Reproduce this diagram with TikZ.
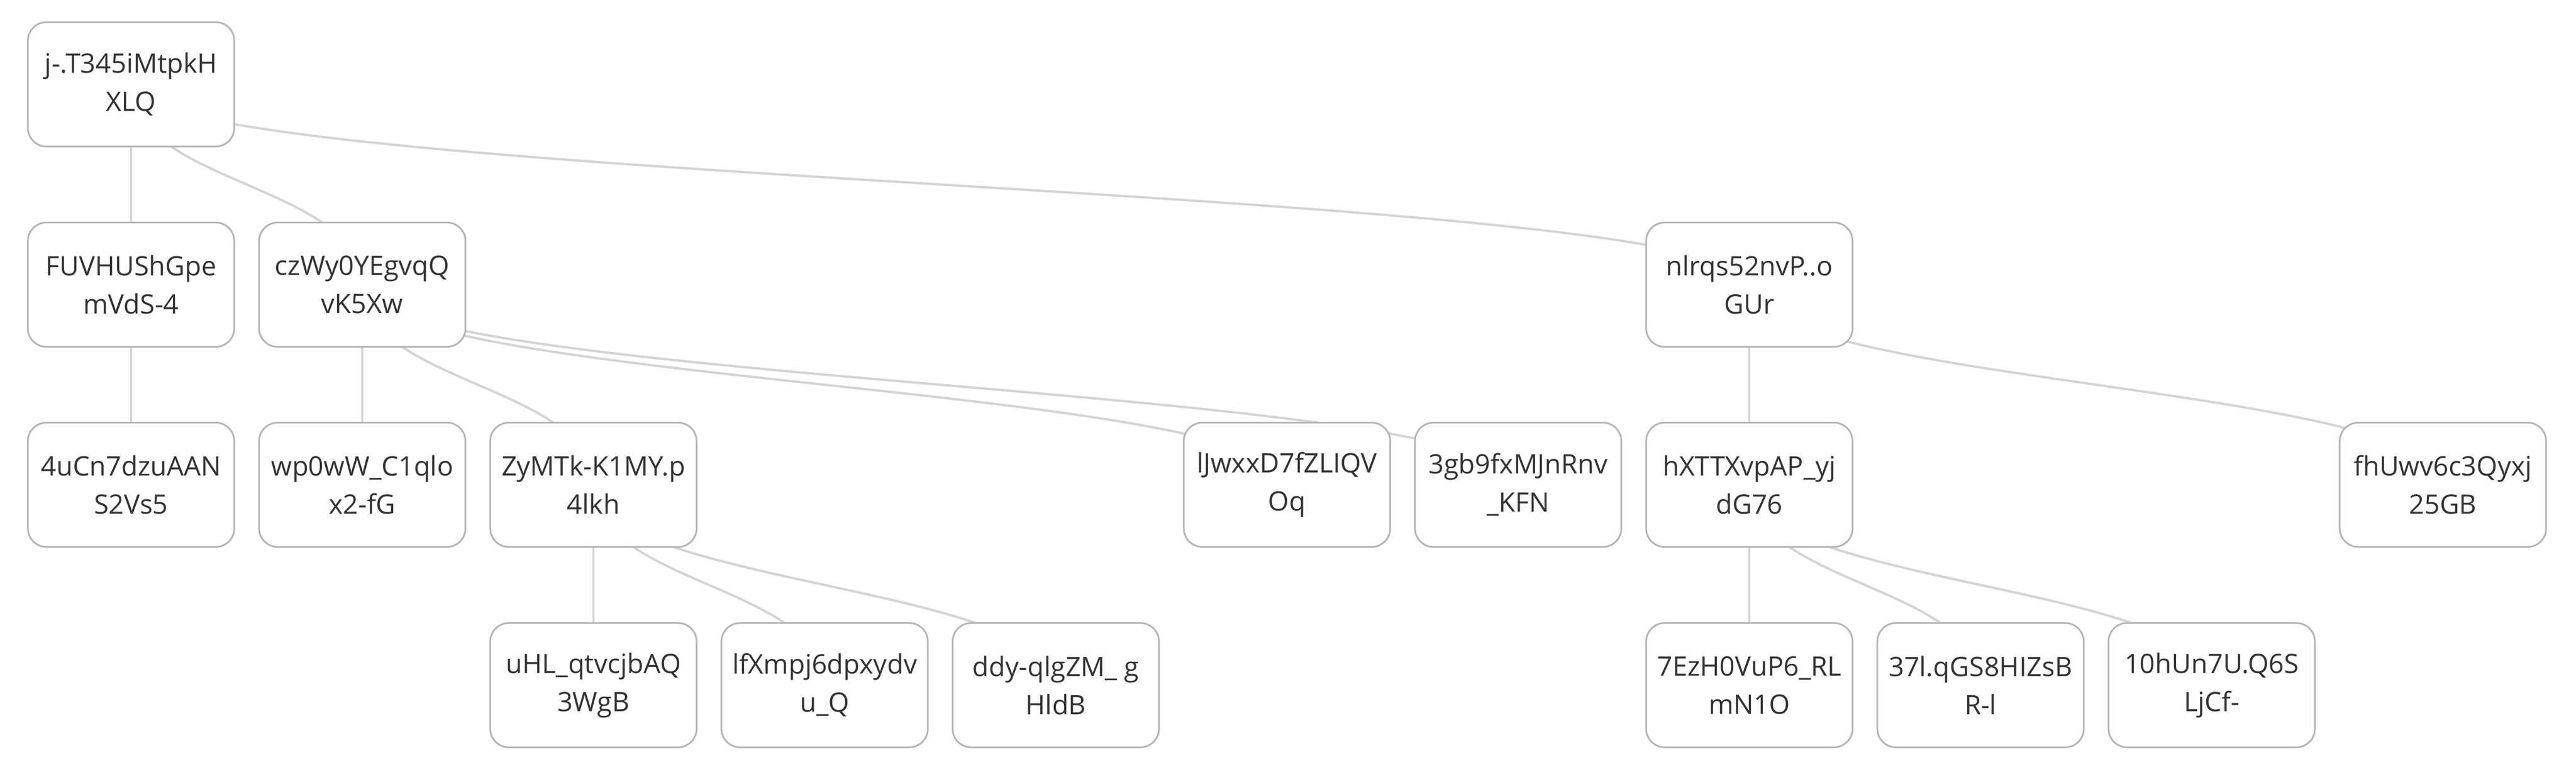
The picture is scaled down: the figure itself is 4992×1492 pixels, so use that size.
\documentclass[tikz,border=0pt]{standalone}
\usepackage{fontspec}
\setmainfont{Open Sans}
\usetikzlibrary{backgrounds}
\definecolor{boxline}{HTML}{B4B4B4}
\definecolor{edgeline}{HTML}{D4D4D4}
\definecolor{txt}{HTML}{333333}
\tikzset{
  box/.style={draw=boxline, line width=0.65pt, fill=white, rounded corners=7.2pt,
    minimum width=80pt, minimum height=48.2pt, inner sep=0pt, align=center,
    text=txt, font=\fontsize{10.4pt}{14.8pt}\selectfont},
  edge/.style={draw=edgeline, line width=0.9pt},
}
\begin{document}
\begin{tikzpicture}[x=0.2pt, y=-0.2pt]
\useasboundingbox (0,0) rectangle (4992,1492);
% row 0
\node[box] (root) at (254,163.5) {j-.T345iMtpkH\\XLQ};
% row 1
\node[box] (fuv) at (254,552) {FUVHUShGpe\\mVdS-4};
\node[box] (czw) at (702,552) {czWy0YEgvqQ\\vK5Xw};
\node[box] (nlr) at (3390,552) {nlrqs52nvP..o\\GUr};
% row 2
\node[box] (ucn) at (254,940) {4uCn7dzuAAN\\S2Vs5};
\node[box] (wpw) at (702,940) {wp0wW\_C1qlo\\x2-fG};
\node[box] (zym) at (1150,940) {ZyMTk-K1MY.p\\4lkh};
\node[box] (ljw) at (2494,940) {lJwxxD7fZLIQV\\Oq};
\node[box] (gbf) at (2942,940) {3gb9fxMJnRnv\\\_KFN};
\node[box] (hxt) at (3390,940) {hXTTXvpAP\_yj\\dG76};
\node[box] (fhu) at (4734,940) {fhUwv6c3Qyxj\\25GB};
% row 3
\node[box] (uhl) at (1150,1328.5) {uHL\_qtvcjbAQ\\3WgB};
\node[box] (lfx) at (1598,1328.5) {lfXmpj6dpxydv\\u\_Q};
\node[box] (ddy) at (2046,1328.5) {ddy-qlgZM\_ g\\HldB};
\node[box] (ezh) at (3390,1328.5) {7EzH0VuP6\_RL\\mN1O};
\node[box] (qgs) at (3838,1328.5) {37l.qGS8HIZsB\\R-l};
\node[box] (hun) at (4286,1328.5) {10hUn7U.Q6S\\LjCf-};
\begin{scope}[on background layer]
\foreach \p/\c in {root/fuv, root/czw, root/nlr, fuv/ucn, czw/wpw, czw/zym, czw/ljw, czw/gbf,
  nlr/hxt, nlr/fhu, zym/uhl, zym/lfx, zym/ddy, hxt/ezh, hxt/qgs, hxt/hun}
  \draw[edge] (\p.center) .. controls +(0,194) and +(0,-194) .. (\c.center);
\end{scope}
\end{tikzpicture}
\end{document}
